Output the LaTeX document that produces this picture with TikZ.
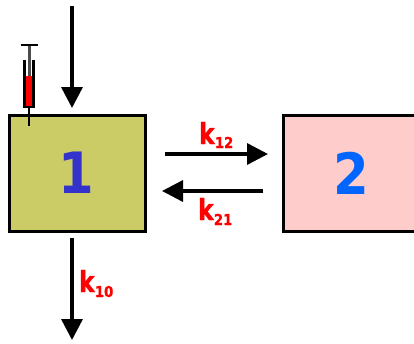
\documentclass[tikz,border=0pt]{standalone}
\usepackage{fontspec}
\setmainfont{DejaVu Sans}
\newfontface\heavyface[FakeBold=1.2]{DejaVu Sans Bold}
\usetikzlibrary{arrows.meta}
\definecolor{comp-olive}{RGB}{204,204,102}
\definecolor{comp-pink}{RGB}{255,204,204}
\definecolor{comp-blue}{RGB}{51,51,204}
\definecolor{comp-sky}{RGB}{0,102,255}

\begin{document}
\begin{tikzpicture}[
  x=1pt, y=-1pt,
  compartment/.style={draw=black, line width=3pt, minimum width=136pt, minimum height=116pt, inner sep=0pt},
  number/.style={inner sep=0pt, xscale=.9, transform shape, font=\fontsize{57}{57}\selectfont\bfseries},
  flow/.style={line width=3.4pt, -{Triangle[length=21pt, width=21pt]}},
  rate/.style={text=red, inner sep=0pt, xscale=.8, transform shape, font=\fontsize{29}{29}\heavyface},
  ratesub/.style={text=red, inner sep=0pt, xscale=.88, transform shape, font=\fontsize{15}{15}\heavyface},
]
  \useasboundingbox (0,0) rectangle (414,343);

  % Compartments
  \node[compartment, fill=comp-olive] (one) at (77,173) {};
  \node[compartment, fill=comp-pink] (two) at (351,173) {};
  \node[number, text=comp-blue] (onelabel) at (76,173) {1};
  \node[number, text=comp-sky] (twolabel) at (351,173) {2};

  % Syringe
  \coordinate (plungertop) at (29,45);
  \coordinate (plungerend) at (29,76);
  \coordinate (needletop) at (29,107);
  \coordinate (needleend) at (29,126);
  \draw[line width=3pt, black!70] (plungertop) -- (plungerend);
  \draw[line width=2.6pt] (20.5,45) -- (37.5,45);
  \draw[line width=2.6pt] (needletop) -- (needleend);
  \fill[red] (24.5,76) rectangle (33.5,107);
  \draw[line width=2.4pt] (24.5,60) -- (24.5,107) -- (33.5,107) -- (33.5,60);

  % Flows
  \coordinate (inflowstart) at (72,6);
  \coordinate (inflowend) at (72,108);
  \coordinate (elimstart) at (72,238);
  \coordinate (elimend) at (72,340);
  \coordinate (fwdstart) at (165,154);
  \coordinate (fwdend) at (268,154);
  \coordinate (backstart) at (263,191);
  \coordinate (backend) at (162,191);
  \draw[flow] (inflowstart) -- (inflowend);
  \draw[flow] (elimstart) -- (elimend);
  \draw[flow] (fwdstart) -- (fwdend);
  \draw[flow] (backstart) -- (backend);

  % Rate labels
  \node[rate, anchor=base west] (k12) at (199,144) {k};
  \node[ratesub, anchor=base west] (k12sub) at ([yshift=-4pt]k12.base east) {12};
  \node[rate, anchor=base west] (k21) at (198,220) {k};
  \node[ratesub, anchor=base west] (k21sub) at ([yshift=-5pt]k21.base east) {21};
  \node[rate, anchor=base west] (k10) at (79,292) {k};
  \node[ratesub, anchor=base west] (k10sub) at ([yshift=-5pt]k10.base east) {10};
\end{tikzpicture}
\end{document}
